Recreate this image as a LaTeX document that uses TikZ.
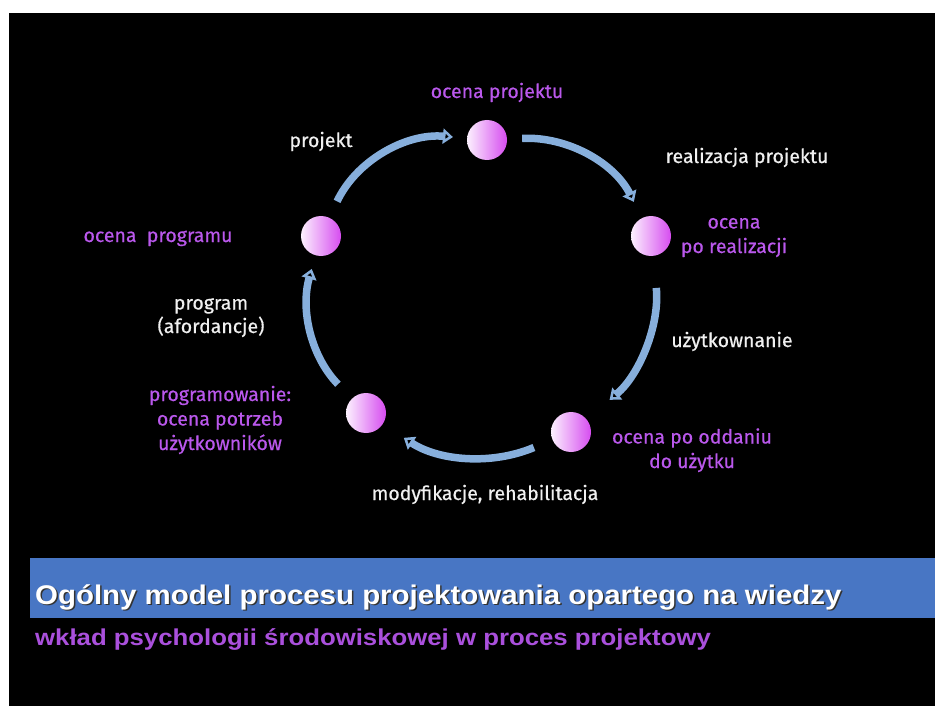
\documentclass[tikz,border=0pt]{standalone}
\usepackage{fontspec}
\setmainfont{Fira Sans}[FakeBold=0.5]
\newfontfamily\titlefont{Liberation Sans}[FakeStretch=1.09]
\newfontfamily\subtitlefont{Liberation Sans}[FakeStretch=1.12]
\usetikzlibrary{arrows.meta,positioning}

\definecolor{flowblue}{RGB}{135,175,220}
\definecolor{labelpurple}{RGB}{186,88,236}
\definecolor{subpurple}{RGB}{170,80,220}
\definecolor{bandblue}{RGB}{72,118,196}
\definecolor{ballpink}{RGB}{214,76,240}

\tikzset{
  ball/.style={circle, minimum size=40pt, inner sep=0pt,
    left color=white!92!ballpink, right color=ballpink},
  flow/.style={line width=7.5pt, draw=flowblue,
    -{Triangle[width=15pt,length=10pt]}},
  stage/.style={text=labelpurple, align=center, anchor=base,
    font=\fontsize{19.5}{24.5}\selectfont},
  step label/.style={text=white!94!black, align=center, anchor=base,
    font=\fontsize{19.5}{23.5}\selectfont}
}

\begin{document}
\begin{tikzpicture}[x=1pt, y=-1pt]
	% Slide background
	\useasboundingbox (0,0) rectangle (935,706);
	\fill[white] (0,0) rectangle (935,706);
	\fill[black] (9,13) rectangle (935,706);

	% Draw the stages
	\node[ball] (proj)  at (487,140) {};
	\node[ball] (real)  at (651,236) {};
	\node[ball] (odd)   at (571,432) {};
	\node[ball] (potr)  at (366,413) {};
	\node[ball] (prog)  at (321,236) {};

	% Stage names (base = last line)
	\node[stage] (projName) at (497,98)  {ocena projektu};
	\node[stage] (realName) at (734,253) {ocena\\po realizacji};
	\node[stage] (oddName)  at (692,468) {ocena po oddaniu\\do użytku};
	\node[stage] (potrName) at (220,450) {programowanie:\\ocena potrzeb\\użytkowników};
	\node[stage] (progName) at (158,242) {ocena\ \ programu};

	% Steps between the stages
	\node[step label] (projStep) at (321,147) {projekt};
	\node[step label] (realStep) at (747,163) {realizacja projektu};
	\node[step label] (useStep)  at (732,347) {użytkownanie};
	\node[step label] (modStep)  at (485,500) {modyfikacje, rehabilitacja};
	\node[step label] (progStep) at (211,333) {program\\(afordancje)};

	% Connect the stages with arrows
	\draw[flow]
		(prog) edge[bend left=35, shorten <=18pt, shorten >=14pt] (proj)
		(proj) edge[bend left=33, shorten <=15pt, shorten >=18pt] (real)
		(real) edge[bend left=28, shorten <=32pt, shorten >=30pt] (odd)
		(odd)  edge[bend left=28, shorten <=20pt, shorten >=25pt] (potr)
		(potr) edge[bend left=30, shorten <=20pt, shorten >=14pt] (prog);

	% Title band
	\fill[bandblue] (30,558) rectangle (935,618);
	\node[anchor=base west, text=black!80, inner sep=0pt,
		font=\titlefont\bfseries\fontsize{27}{30}\selectfont]
		(titleShadow) at (36.5,605.5) {Ogólny model procesu projektowania opartego na wiedzy};
	\node[anchor=base west, text=white, inner sep=0pt,
		font=\titlefont\bfseries\fontsize{27}{30}\selectfont]
		(title) at (35,604) {Ogólny model procesu projektowania opartego na wiedzy};
	\node[anchor=base west, text=subpurple, inner sep=0pt,
		font=\subtitlefont\bfseries\fontsize{23}{25}\selectfont]
		(subtitle) at (35,645) {wkład psychologii środowiskowej w proces projektowy};
\end{tikzpicture}
\end{document}
